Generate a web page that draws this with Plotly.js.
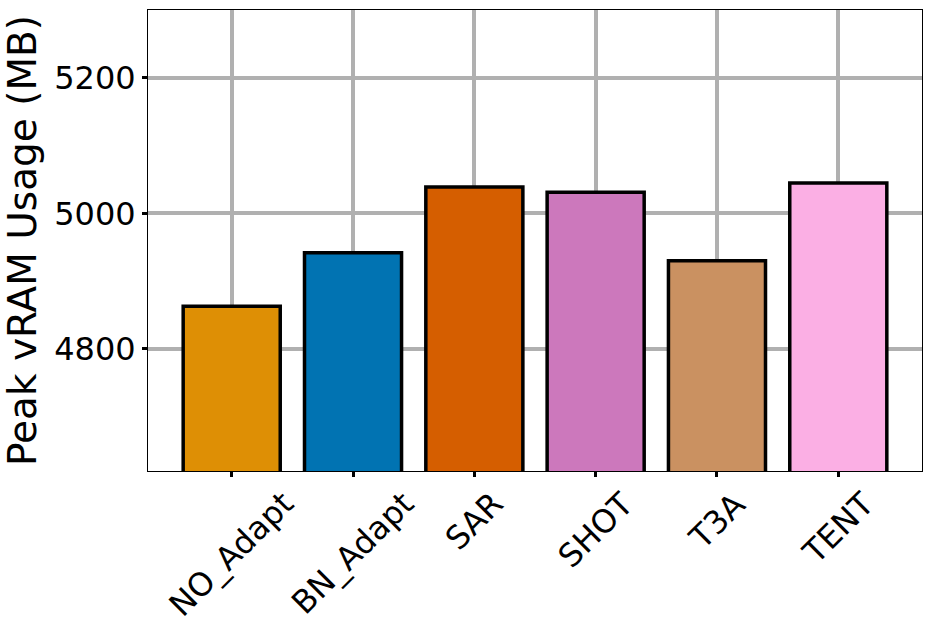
<!DOCTYPE html>
<html>
<head>
<meta charset="utf-8">
<script src="https://cdn.plot.ly/plotly-3.0.1.min.js"></script>
<style>
  html, body { margin: 0; padding: 0; background: #fff; }
  #chart { width: 933px; height: 633px; }
</style>
</head>
<body>
<div id="chart"></div>
<script>
// peak vRAM per adaptation method
const METHODS = ['NO_Adapt', 'BN_Adapt', 'SAR', 'SHOT', 'T3A', 'TENT'];
const PEAK_MB = [4863, 4942, 5039, 5031, 4930, 5045];
const BAR_COLORS = ['#DE8F05', '#0173B2', '#D55E00', '#CC78BC', '#CA9161', '#FBAFE4'];
const Y_TICKS = [4800, 5000, 5200];

const GRID = '#b0b0b0';
const FONT = 'DejaVu Sans, sans-serif';
const TICK_SIZE = 32;

const trace = {
  type: 'bar',
  x: METHODS,
  y: PEAK_MB,
  width: 0.8,
  marker: { color: BAR_COLORS, line: { color: '#000', width: 3.5 } },
  hoverinfo: 'skip'
};

// matplotlib-style rotated labels: centred under the tick, top edge aligned
const xLabels = METHODS.map(m => ({
  text: m, x: m, xref: 'x', y: 0, yref: 'paper',
  xanchor: 'center', yanchor: 'top', yshift: -11,
  textangle: -45, showarrow: false,
  font: { size: TICK_SIZE, family: FONT, color: '#000' }
}));

const layout = {
  width: 933, height: 633,
  paper_bgcolor: '#fff', plot_bgcolor: '#fff',
  margin: { l: 148, r: 11, t: 10, b: 162 },
  showlegend: false,
  font: { family: FONT, color: '#000' },
  annotations: xLabels,
  xaxis: {
    type: 'category',
    range: [-0.69, 5.69],
    showgrid: true, gridcolor: GRID, gridwidth: 4,
    showline: true, linecolor: '#000', linewidth: 1, mirror: true,
    ticks: 'outside', ticklen: 5, tickwidth: 3, tickcolor: '#000',
    showticklabels: false
  },
  yaxis: {
    range: [4620, 5300],
    tickvals: Y_TICKS,
    showgrid: true, gridcolor: GRID, gridwidth: 4,
    zeroline: false,
    showline: true, linecolor: '#000', linewidth: 1, mirror: true,
    ticks: 'outside', ticklen: 5, tickwidth: 3, tickcolor: '#000',
    tickfont: { size: TICK_SIZE, family: FONT, color: '#000' },
    title: { text: 'Peak vRAM Usage (MB)', font: { size: 39, family: FONT, color: '#000' }, standoff: 6 }
  }
};

Plotly.newPlot('chart', [trace], layout, { displayModeBar: false, staticPlot: true });
</script>
</body>
</html>
